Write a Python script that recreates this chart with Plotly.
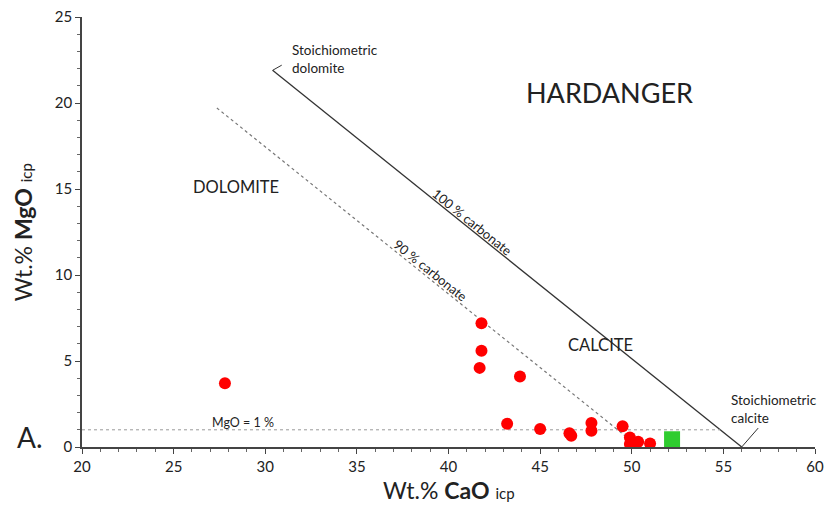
import plotly.graph_objects as go

# Sample analyses (wt.% CaO, wt.% MgO), ICP
cao = [27.8, 41.8, 41.8, 41.7, 43.9, 43.2, 45.0, 46.6, 46.7, 47.8, 47.8,
       49.5, 49.9, 49.9, 50.35, 51.0]
mgo = [3.7, 7.2, 5.6, 4.6, 4.1, 1.35, 1.05, 0.8, 0.65, 1.4, 0.95,
       1.2, 0.55, 0.17, 0.3, 0.2]

# Reference sample
ref_cao = [52.2]
ref_mgo = [0.45]

# Reference compositions
dolomite = (30.4, 21.9)
calcite = (56.0, 0.0)
carb90 = [(27.36, 19.71), (50.4, 0.0)]
mgo_line_x = [20, 54.83]
mgo_line_y = [1, 1]

font = "Lato, 'Open Sans', sans-serif"
ink = "#222222"

fig = go.Figure()

fig.add_trace(go.Scatter(
    x=[dolomite[0], calcite[0]], y=[dolomite[1], calcite[1]],
    mode="lines", line=dict(color="#333333", width=1.3), hoverinfo="skip"))
fig.add_trace(go.Scatter(
    x=[p[0] for p in carb90], y=[p[1] for p in carb90],
    mode="lines", line=dict(color="#777777", width=1.2, dash="dot"), hoverinfo="skip"))
fig.add_trace(go.Scatter(
    x=mgo_line_x, y=mgo_line_y,
    mode="lines", line=dict(color="#999999", width=1, dash="dot"), hoverinfo="skip"))

fig.add_trace(go.Scatter(
    x=cao, y=mgo, mode="markers",
    marker=dict(color="#ff0000", size=12, line=dict(width=0))))
fig.add_trace(go.Scatter(
    x=ref_cao, y=ref_mgo, mode="markers",
    marker=dict(color="#2fcc2f", size=16, symbol="square", line=dict(width=0))))

# Leader lines for the stoichiometric end-members
fig.add_trace(go.Scatter(
    x=[30.4, 30.9], y=[21.9, 22.2], mode="lines",
    line=dict(color="#333333", width=1), hoverinfo="skip"))
fig.add_trace(go.Scatter(
    x=[56.0, 56.9], y=[0.0, 1.1], mode="lines",
    line=dict(color="#333333", width=1), hoverinfo="skip"))

anns = [
    dict(x=31.35, y=22.55, text="Stoichiometric<br>dolomite", xanchor="left",
         yanchor="middle", align="left", font=dict(size=13.5, color=ink)),
    dict(x=55.3, y=2.2, text="Stoichiometric<br>calcite", xanchor="left",
         yanchor="middle", align="left", font=dict(size=13.5, color=ink)),
    dict(x=48.8, y=20.6, text="HARDANGER", xanchor="center",
         font=dict(size=27, color=ink)),
    dict(x=28.4, y=15.1, text="DOLOMITE", xanchor="center",
         font=dict(size=16.5, color=ink)),
    dict(x=48.3, y=5.95, text="CALCITE", xanchor="center",
         font=dict(size=16.5, color=ink)),
    dict(x=41.3, y=13.1, text="100 % carbonate", textangle=38.7,
         font=dict(size=13, color=ink)),
    dict(x=39.0, y=10.3, text="90 % carbonate", textangle=38.7,
         font=dict(size=13, color=ink)),
    dict(x=28.8, y=1.4, text="MgO = 1 %", yanchor="middle",
         font=dict(size=12.5, color=ink)),
    dict(x=-0.071, xref="paper", y=0.6, text="A.", xanchor="center",
         font=dict(size=28, color=ink)),
    # axis titles
    dict(x=0.5, xref="paper", y=-0.1, yref="paper", yanchor="middle",
         text="Wt.% <b>CaO</b> <span style='font-size:15px'>icp</span>",
         font=dict(size=23, color=ink)),
    dict(x=-0.08, xref="paper", y=0.5, yref="paper", textangle=-90,
         xanchor="center", yanchor="middle",
         text="Wt.% <b>MgO</b> <span style='font-size:15px'>icp</span>",
         font=dict(size=23, color=ink)),
]
for a in anns:
    a.setdefault("xref", "x")
    a.setdefault("yref", "y")
    a["showarrow"] = False
fig.update_layout(annotations=anns)

axis_common = dict(
    showgrid=False, zeroline=False, showline=True, linecolor="#444444",
    linewidth=1.5, ticks="outside", ticklen=5, tickcolor="#444444",
    tickfont=dict(size=15, color=ink, family=font), automargin=False,
    minor=dict(dtick=1, ticks="outside", ticklen=3, tickcolor="#666666"),
)
fig.update_xaxes(range=[20, 60], dtick=5, **axis_common)
fig.update_yaxes(range=[0, 25], dtick=5, **axis_common)

fig.update_layout(
    width=826, height=511, showlegend=False,
    plot_bgcolor="white", paper_bgcolor="white",
    margin=dict(l=82, r=11, t=17, b=64),
    font=dict(family=font, color=ink),
)

fig.write_html("out.html")
